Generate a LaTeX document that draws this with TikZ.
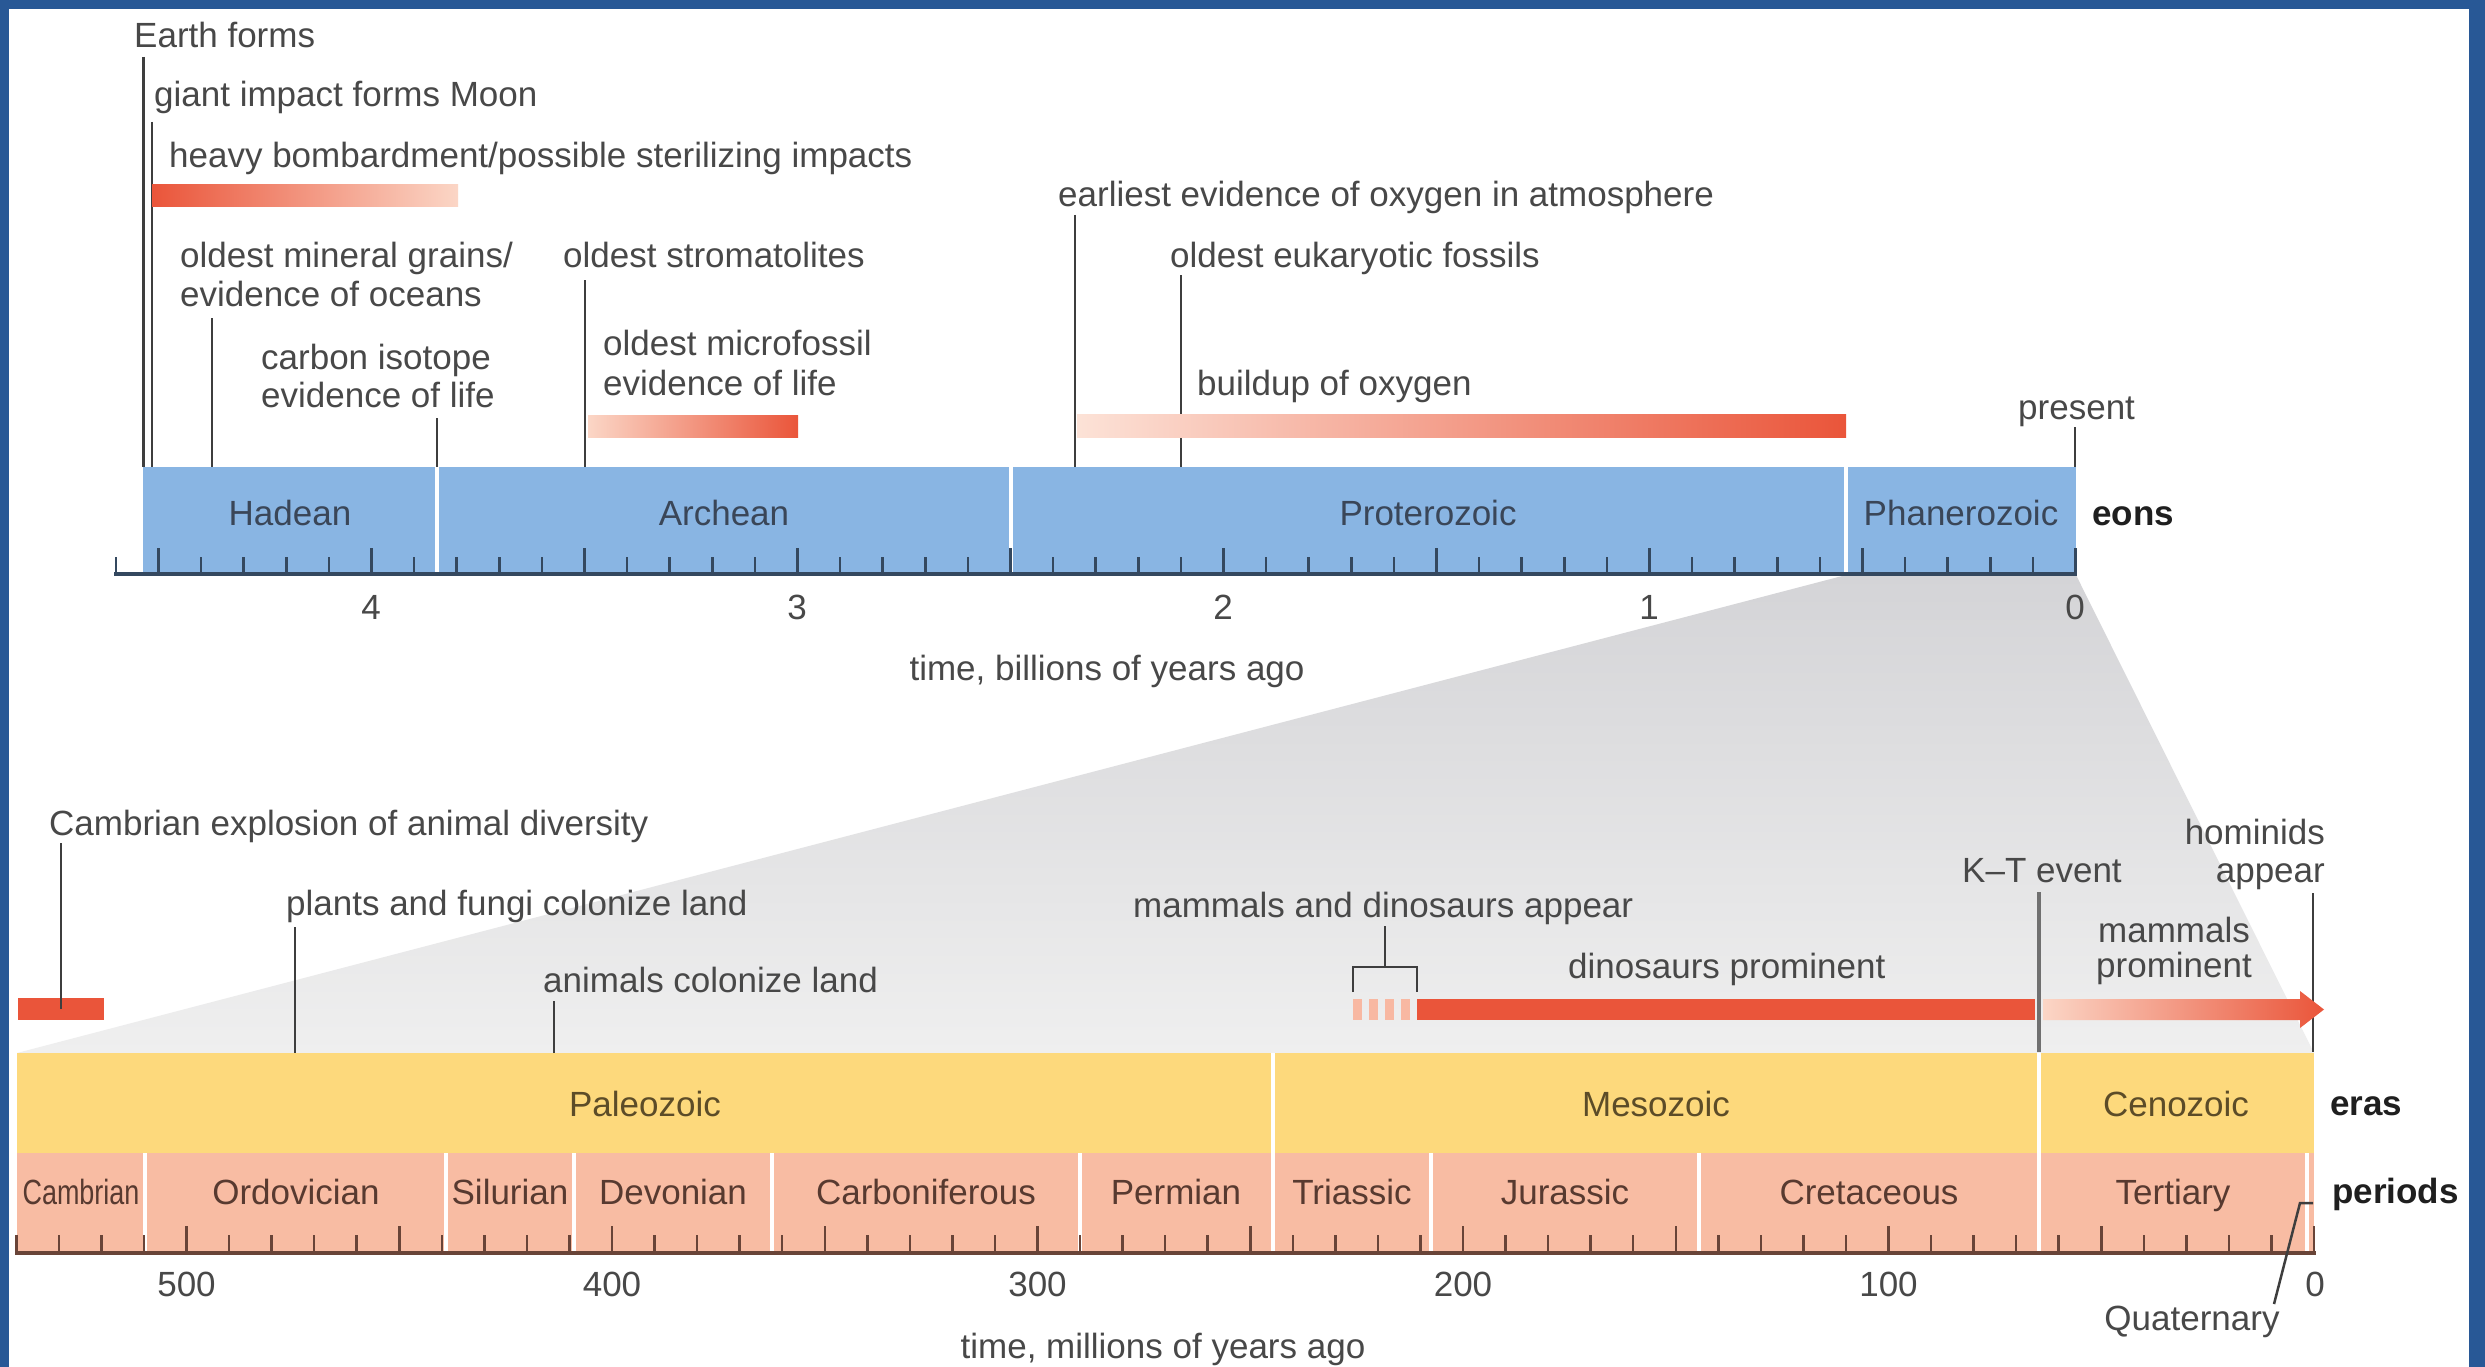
\documentclass[tikz,border=0pt]{standalone}
\usepackage{fontspec}
\setmainfont{Liberation Sans}
\newcommand\tlfont{\fontsize{35}{38}\selectfont}
\definecolor{bgblue}{RGB}{40,88,150}
\definecolor{txt}{RGB}{72,72,72}
\definecolor{ln}{RGB}{62,62,62}
\definecolor{ktln}{RGB}{112,112,112}
\definecolor{eonblue}{RGB}{137,181,227}
\definecolor{erayel}{RGB}{253,217,124}
\definecolor{persal}{RGB}{248,188,163}
\definecolor{redbar}{RGB}{234,85,58}
\definecolor{lightred}{RGB}{251,214,198}
\definecolor{stripe}{RGB}{248,184,162}
\definecolor{eontxt}{RGB}{58,70,88}
\definecolor{eratxt}{RGB}{92,76,40}
\definecolor{pertxt}{RGB}{88,58,48}
\definecolor{axtop}{RGB}{52,72,95}
\definecolor{axbot}{RGB}{105,68,56}
\definecolor{wedgetop}{RGB}{212,212,215}
\definecolor{wedgebot}{RGB}{239,239,239}
\begin{document}
\begin{tikzpicture}[x=1pt,y=-1pt,
  lbl/.style={font=\tlfont, text=txt, inner sep=0pt, anchor=base west},
  clbl/.style={lbl, anchor=base},
  rlbl/.style={lbl, anchor=base east},
  eonlbl/.style={clbl, text=eontxt},
  eralbl/.style={clbl, text=eratxt},
  perlbl/.style={clbl, text=pertxt},
  boldlbl/.style={lbl, font=\tlfont\bfseries, text=black!88},
  leader/.style={draw=ln, line width=2.5pt},
  ktleader/.style={draw=ktln, line width=3.5pt},
  sepline/.style={draw=white, line width=3.5pt},
  ticktop/.style={draw=axtop, line width=2.5pt},
  tickbot/.style={draw=axbot, line width=2.5pt},
]
\useasboundingbox (0,0) rectangle (2485,1367);
% background
\fill[bgblue] (0,0) rectangle (2485,1367);
\fill[white] (9,9) rectangle (2469,1367);
% zoom wedge
\shade[top color=wedgetop, bottom color=wedgebot] (1846,575) -- (2076,575) -- (2314,1053) -- (17,1053) -- cycle;
% bars
\fill[eonblue] (143,467) rectangle (2076,574);
\fill[erayel] (17,1053) rectangle (2314,1153);
\fill[persal] (17,1153) rectangle (2314,1253);
% separators
\foreach \x in {437,1011,1846} \draw[sepline] (\x,467) -- (\x,573);
\foreach \x in {1273,2039} \draw[sepline] (\x,1053) -- (\x,1252);
\foreach \x in {145,446,574,772,1080,1431,1699,2307} \draw[sepline] (\x,1153) -- (\x,1252);
% top axis
\foreach \i in {0,...,46}{
  \pgfmathsetmacro{\xx}{2075.5-42.6*\i}
  \pgfmathsetmacro{\yy}{ifthenelse(mod(\i,5)==0,548,557)}
  \draw[ticktop] (\xx,\yy) -- (\xx,574);
}
\draw[draw=axtop, line width=4pt] (114,574) -- (2077,574);
% bottom axis
\foreach \i in {0,...,54}{
  \pgfmathsetmacro{\xx}{2314-42.55*\i}
  \pgfmathsetmacro{\yy}{ifthenelse(mod(\i,5)==0,1226,1235)}
  \draw[tickbot] (\xx,\yy) -- (\xx,1253);
}
\draw[draw=axbot, line width=4pt] (15,1253) -- (2315.5,1253);

% ---------- top leaders ----------
\coordinate (earthT) at (143.5,57);   \coordinate (earthB) at (143.5,467);
\coordinate (moonT) at (152,122);     \coordinate (moonB) at (152,467);
\coordinate (minT) at (212,318);      \coordinate (minB) at (212,467);
\coordinate (carbT) at (437,418);     \coordinate (carbB) at (437,467);
\coordinate (stromT) at (585,280);    \coordinate (stromB) at (585,467);
\coordinate (oxyT) at (1075,215);     \coordinate (oxyB) at (1075,467);
\coordinate (eukT) at (1181,275);     \coordinate (eukB) at (1181,467);
\coordinate (presT) at (2075,427);    \coordinate (presB) at (2075,467);
\draw[leader] (earthT) -- (earthB);
\draw[leader] (moonT) -- (moonB);
\draw[leader] (minT) -- (minB);
\draw[leader] (carbT) -- (carbB);
\draw[leader] (stromT) -- (stromB);
\draw[leader] (oxyT) -- (oxyB);
\draw[leader] (eukT) -- (eukB);
\draw[leader] (presT) -- (presB);

% top bars
\shade[left color=redbar, right color=lightred] (152,185) rectangle (458,207);
\shade[left color=lightred, right color=redbar] (588,415) rectangle (798,437);
\shade[left color=lightred!70!white, right color=redbar] (1077,414) rectangle (1846,437);

% ---------- bottom leaders ----------
\fill[redbar] (18,998) rectangle (104,1020);
\coordinate (cambT) at (61,843);      \coordinate (cambB) at (61,1009);
\coordinate (plantT) at (295,927);    \coordinate (plantB) at (295,1053);
\coordinate (animT) at (554,1001);    \coordinate (animB) at (554,1053);
\coordinate (ktT) at (2039,892);      \coordinate (ktB) at (2039,1052);
\coordinate (homT) at (2313,893);     \coordinate (homB) at (2313,1052);
\coordinate (brStem) at (1385,926);   \coordinate (brMid) at (1385,967);
\coordinate (brL) at (1353,967);      \coordinate (brR) at (1417,967);
\coordinate (brLB) at (1353,992);     \coordinate (brRB) at (1417,992);
\coordinate (quatA) at (2274,1304);   \coordinate (quatB) at (2300,1203);
\coordinate (quatC) at (2313,1203);
\draw[leader] (cambT) -- (cambB);
\draw[leader] (plantT) -- (plantB);
\draw[leader] (animT) -- (animB);
\draw[ktleader] (ktT) -- (ktB);
\draw[leader] (homT) -- (homB);
\draw[leader] (brStem) -- (brMid);
\draw[leader] (brLB) -- (brL) -- (brR) -- (brRB);
\draw[leader] (quatA) -- (quatB) -- (quatC);

% dinosaur / mammal bars
\foreach \x in {1353,1369,1385,1401} \fill[stripe] (\x,999) rectangle ++(9,21);
\fill[redbar] (1417,999) rectangle (2035,1020);
\shade[left color=lightred, right color=redbar]
  (2043,999) -- (2300,999) -- (2300,991) -- (2324,1009.5) -- (2300,1028) -- (2300,1020) -- (2043,1020) -- cycle;

% ---------- top texts ----------
\node[lbl] (earth) at (134,48) {Earth forms};
\node[lbl] (moon) at (154,107) {giant impact forms Moon};
\node[lbl] (bomb) at (169,168) {heavy bombardment/possible sterilizing impacts};
\node[lbl] (min1) at (180,268) {oldest mineral grains/};
\node[lbl] (min2) at (180,306) {evidence of oceans};
\node[lbl] (carb1) at (261,369) {carbon isotope};
\node[lbl] (carb2) at (261,407) {evidence of life};
\node[lbl] (strom) at (563,268) {oldest stromatolites};
\node[lbl] (micro1) at (603,355) {oldest microfossil};
\node[lbl] (micro2) at (603,395) {evidence of life};
\node[lbl] (oxy) at (1058,207) {earliest evidence of oxygen in atmosphere};
\node[lbl] (euk) at (1170,268) {oldest eukaryotic fossils};
\node[lbl] (build) at (1197,395) {buildup of oxygen};
\node[lbl] (present) at (2018,419) {present};
\node[eonlbl] (hadean) at (290,525) {Hadean};
\node[eonlbl] (archean) at (724,525) {Archean};
\node[eonlbl] (proter) at (1428,525) {Proterozoic};
\node[eonlbl] (phaner) at (1961,525) {Phanerozoic};
\node[boldlbl] (eons) at (2092,525) {eons};
\node[clbl] (g4) at (371,619) {4};
\node[clbl] (g3) at (797,619) {3};
\node[clbl] (g2) at (1223,619) {2};
\node[clbl] (g1) at (1649,619) {1};
\node[clbl] (g0) at (2075,619) {0};
\node[clbl] (tbil) at (1107,680) {time, billions of years ago};

% ---------- bottom texts ----------
\node[lbl] (cambx) at (49,835) {Cambrian explosion of animal diversity};
\node[lbl] (plants) at (286,915) {plants and fungi colonize land};
\node[lbl] (animals) at (543,992) {animals colonize land};
\node[lbl] (mamdino) at (1133,917) {mammals and dinosaurs appear};
\node[lbl] (dinop) at (1568,978) {dinosaurs prominent};
\node[lbl] (kt) at (1962,882) {K--T event};
\node[rlbl] (hom1) at (2325,844) {hominids};
\node[rlbl] (hom2) at (2325,882) {appear};
\node[clbl] (mam1) at (2174,942) {mammals};
\node[clbl] (mam2) at (2174,977) {prominent};
\node[eralbl] (paleo) at (645,1116) {Paleozoic};
\node[eralbl] (meso) at (1656,1116) {Mesozoic};
\node[eralbl] (ceno) at (2176,1116) {Cenozoic};
\node[boldlbl] (eras) at (2330,1115) {eras};
\node[perlbl] (camb) at (81,1204) {\scalebox{0.77}[1]{Cambrian}};
\node[perlbl] (ordo) at (296,1204) {Ordovician};
\node[perlbl] (silu) at (510,1204) {Silurian};
\node[perlbl] (devo) at (673,1204) {Devonian};
\node[perlbl] (carbon) at (926,1204) {Carboniferous};
\node[perlbl] (perm) at (1176,1204) {Permian};
\node[perlbl] (trias) at (1352,1204) {Triassic};
\node[perlbl] (jura) at (1565,1204) {Jurassic};
\node[perlbl] (creta) at (1869,1204) {Cretaceous};
\node[perlbl] (tert) at (2173,1204) {Tertiary};
\node[boldlbl] (periods) at (2332,1203) {periods};
\node[clbl] (m500) at (186.5,1296) {500};
\node[clbl] (m400) at (612,1296) {400};
\node[clbl] (m300) at (1037.5,1296) {300};
\node[clbl] (m200) at (1463,1296) {200};
\node[clbl] (m100) at (1888.5,1296) {100};
\node[clbl] (m0) at (2315,1296) {0};
\node[clbl] (quat) at (2192,1330) {Quaternary};
\node[clbl] (tmil) at (1163,1358) {time, millions of years ago};
\end{tikzpicture}
\end{document}
